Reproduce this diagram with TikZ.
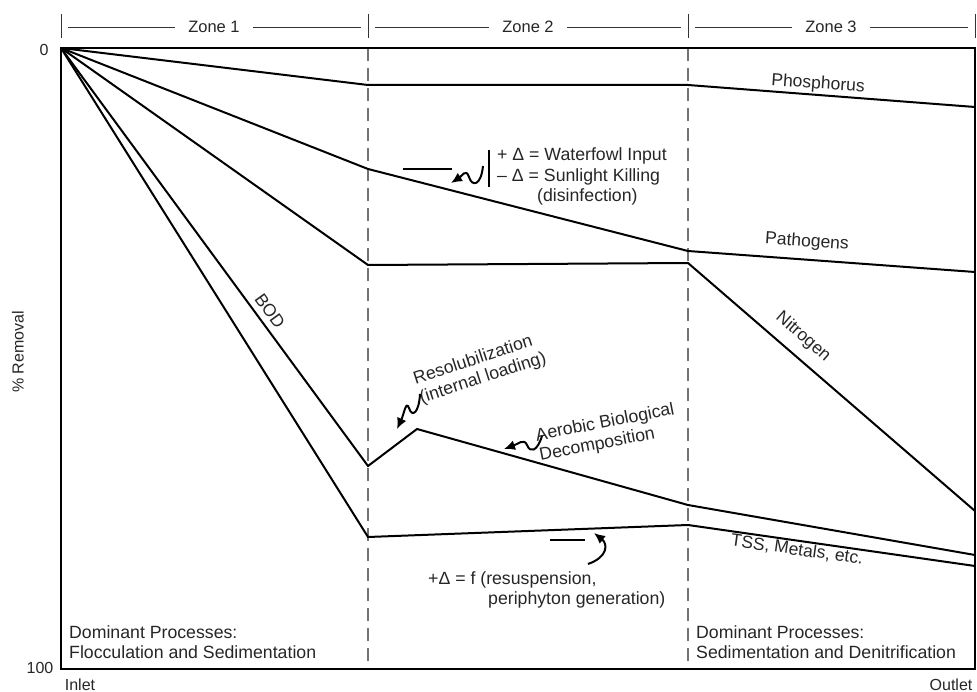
\documentclass[tikz,border=0pt]{standalone}
\usepackage{fontspec}
\setmainfont{Liberation Sans}
\usetikzlibrary{arrows.meta}

\begin{document}
\begin{tikzpicture}[
  x=1pt,y=-1pt,
  curve/.style={line width=2pt,line join=miter},
  frame/.style={line width=1.1pt},
  divider/.style={line width=1.2pt,black!55,dash pattern=on 13pt off 7pt},
  tick/.style={line width=0.9pt,black!80},
  zone/.style={font=\fontsize{16.5}{19}\selectfont,inner xsep=13pt,inner ysep=0pt,text=black!85},
  axislbl/.style={font=\fontsize{16}{19}\selectfont,inner sep=0pt,text=black!85},
  lbl/.style={font=\fontsize{17.5}{20}\selectfont,inner sep=0pt,text=black!85},
  note/.style={font=\fontsize{17.7}{20}\selectfont,inner sep=0pt,align=left,text=black!85},
  squig/.style={line width=2pt,-{Latex[length=11pt,width=10pt]}}
]
  \useasboundingbox (0,0) rectangle (977,692);

  % frame and zones
  \coordinate (tl) at (61,48);
  \coordinate (tr) at (975,48);
  \coordinate (br) at (975,669);
  \coordinate (bl) at (61,669);
  \coordinate (d1t) at (368,48);
  \coordinate (d1b) at (368,669);
  \coordinate (d2t) at (688,48);
  \coordinate (d2b) at (688,669);
  \draw[divider] (d1t) -- (d1b);
  \draw[divider] (d2t) -- (d2b);
  \draw[frame] (tl) -- (tr) -- (br) -- (bl) -- cycle;

  \draw[tick] (61,14) -- (61,38);
  \draw[tick] (368,14) -- (368,38);
  \draw[tick] (688,14) -- (688,38);
  \draw[tick] (975,14) -- (975,38);
  \node[zone] (z1) at (214,27) {Zone 1};
  \node[zone] (z2) at (528,27) {Zone 2};
  \node[zone] (z3) at (831,27) {Zone 3};
  \coordinate (h1a) at (68,27);
  \coordinate (h1b) at (361,27);
  \coordinate (h2a) at (375,27);
  \coordinate (h2b) at (681,27);
  \coordinate (h3a) at (695,27);
  \coordinate (h3b) at (968,27);
  \draw[tick] (h1a) -- (z1) -- (h1b);
  \draw[tick] (h2a) -- (z2) -- (h2b);
  \draw[tick] (h3a) -- (z3) -- (h3b);

  \node[axislbl] (zero) at (44,50) {0};
  \node[axislbl] (hundred) at (40,668) {100};
  \node[axislbl,rotate=90] (ylab) at (18,352) {\% Removal};
  \node[axislbl] (inlet) at (80,685) {Inlet};
  \node[axislbl] (outlet) at (951,685) {Outlet};

  % removal curves
  \coordinate (ph1) at (368,85);
  \coordinate (ph2) at (688,85);
  \coordinate (ph3) at (975,107);
  \coordinate (pa1) at (368,169);
  \coordinate (pa2) at (688,251);
  \coordinate (pa3) at (975,272);
  \coordinate (n1) at (368,265);
  \coordinate (n2) at (688,263);
  \coordinate (n3) at (975,511);
  \coordinate (b1) at (368,466);
  \coordinate (b2) at (417,429);
  \coordinate (b3) at (688,505);
  \coordinate (b4) at (975,555);
  \coordinate (t1) at (368,537);
  \coordinate (t2) at (688,525);
  \coordinate (t3) at (975,566);
  \draw[curve] (tl) -- (ph1) -- (ph2) -- (ph3);
  \draw[curve] (tl) -- (pa1) -- (pa2) -- (pa3);
  \draw[curve] (tl) -- (n1) -- (n2) -- (n3);
  \draw[curve] (tl) -- (b1) -- (b2) -- (b3) -- (b4);
  \draw[curve] (tl) -- (t1) -- (t2) -- (t3);

  \node[lbl,rotate=-4] (phlab) at (818,84) {Phosphorus};
  \node[lbl,rotate=-4] (palab) at (807,242) {Pathogens};
  \node[lbl,rotate=-41] (nlab) at (803,337) {Nitrogen};
  \node[lbl,rotate=-54] (blab) at (270,311) {BOD};
  \node[lbl,rotate=-8] (tlab) at (797,550) {TSS, Metals, etc.};

  % notes
  \coordinate (wfbt) at (489,150);
  \coordinate (wfbb) at (489,187);
  \draw[frame] (wfbt) -- (wfbb);
  \node[note,anchor=west] (wf1) at (497,156) {+ Δ = Waterfowl Input};
  \node[note,anchor=west] (wf2) at (497,177) {– Δ = Sunlight Killing};
  \node[note,anchor=west] (wf3) at (537,197) {(disinfection)};
  \coordinate (wfla) at (403,169);
  \coordinate (wflb) at (452,169);
  \draw[frame] (wfla) -- (wflb);
  \coordinate (wfs) at (483,166);
  \coordinate (wfe) at (451,183);
  \draw[squig] (wfs) .. controls (481,186) and (472,187) .. (469,177)
    .. controls (466,168) and (462,176) .. (wfe);

  \node[note,rotate=18] (reslab) at (480,369) {Resolubilization\\(internal loading)};
  \coordinate (ress) at (420,394);
  \coordinate (rese) at (397,429);
  \draw[squig] (ress) .. controls (419,413) and (412,418) .. (409,408)
    .. controls (406,400) and (404,414) .. (rese);

  \node[note,rotate=11] (aerlab) at (607,433) {Aerobic Biological\\Decomposition};
  \coordinate (aers) at (542,436);
  \coordinate (aere) at (504,449);
  \draw[squig] (aers) .. controls (537,452) and (530,453) .. (527,445)
    .. controls (524,438) and (518,444) .. (aere);

  \coordinate (tsla) at (550,540);
  \coordinate (tslb) at (585,540);
  \draw[frame] (tsla) -- (tslb);
  \coordinate (tss) at (588,564);
  \coordinate (tse) at (594,533);
  \draw[squig] (tss) .. controls (608,557) and (608,544) .. (tse);
  \node[note,anchor=west] (rs1) at (428,580) {+Δ = f (resuspension,};
  \node[note,anchor=west] (rs2) at (488,600) {periphyton generation)};

  \node[note,anchor=west] (dp1) at (69,642) {Dominant Processes:\\Flocculation and Sedimentation};
  \node[note,anchor=west] (dp3) at (696,642) {Dominant Processes:\\Sedimentation and Denitrification};
\end{tikzpicture}
\end{document}
